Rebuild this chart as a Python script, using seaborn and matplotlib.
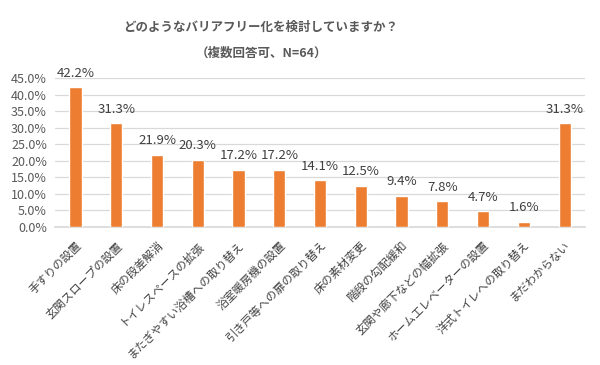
import numpy as np
import pandas as pd
import matplotlib
matplotlib.use('Agg')
import matplotlib.pyplot as plt
from matplotlib.ticker import FuncFormatter, MultipleLocator
import seaborn as sns

categories = ['手すりの設置', '玄関スロープの設置', '床の段差解消', 'トイレスペースの拡張',
              'またぎやすい浴槽への取り替え', '浴室暖房機の設置', '引き戸等への扉の取り替え',
              '床の素材変更', '階段の勾配緩和', '玄関や廊下などの幅拡張',
              'ホームエレベーターの設置', '洋式トイレへの取り替え', 'まだわからない']
values = [42.2, 31.3, 21.9, 20.3, 17.2, 17.2, 14.1, 12.5, 9.4, 7.8, 4.7, 1.6, 31.3]

sns.set_theme(style='white')
plt.rcParams['font.family'] = ['Noto Sans CJK JP', 'DejaVu Sans']

df = pd.DataFrame({'item': categories, 'pct': values})

fig = plt.figure(figsize=(6, 3.65), dpi=100)
ax = fig.add_axes([0.092, 0.378, 0.883, 0.408])
sns.barplot(data=df, x='item', y='pct', color='#ED7D31', width=0.3,
            saturation=1, ax=ax, zorder=3)

ax.set_ylim(0, 45)
ax.yaxis.set_major_locator(MultipleLocator(5))
ax.yaxis.set_major_formatter(FuncFormatter(lambda v, p: f'{v:.1f}%'))
ax.grid(axis='y', color='#d9d9d9', linewidth=0.9, zorder=0)
for s in ['top', 'right', 'left']:
    ax.spines[s].set_visible(False)
ax.spines['bottom'].set_color('#d9d9d9')
ax.set_xlabel('')
ax.set_ylabel('')
ax.tick_params(axis='y', labelsize=9, colors='#595959', length=0, pad=6)
ax.tick_params(axis='x', length=0, pad=9)
ax.set_xticks(range(len(categories)))
ax.set_xticklabels(categories, rotation=45, ha='right', rotation_mode='anchor',
                   fontsize=8.2, color='#404040')

for i, v in enumerate(values):
    ax.annotate(f'{v}%', (i, v), xytext=(0, 5.5), textcoords='offset points',
                ha='center', va='bottom', fontsize=9.5, color='#404040',
                annotation_clip=False)

fig.text(0.435, 0.925, 'どのようなバリアフリー化を検討していますか？', ha='center', va='center',
         fontsize=9, fontweight='bold', color='#595959')
fig.text(0.435, 0.855, '（複数回答可、N=64）', ha='center', va='center',
         fontsize=9, fontweight='bold', color='#595959')

fig.savefig('out.png', dpi=100)
